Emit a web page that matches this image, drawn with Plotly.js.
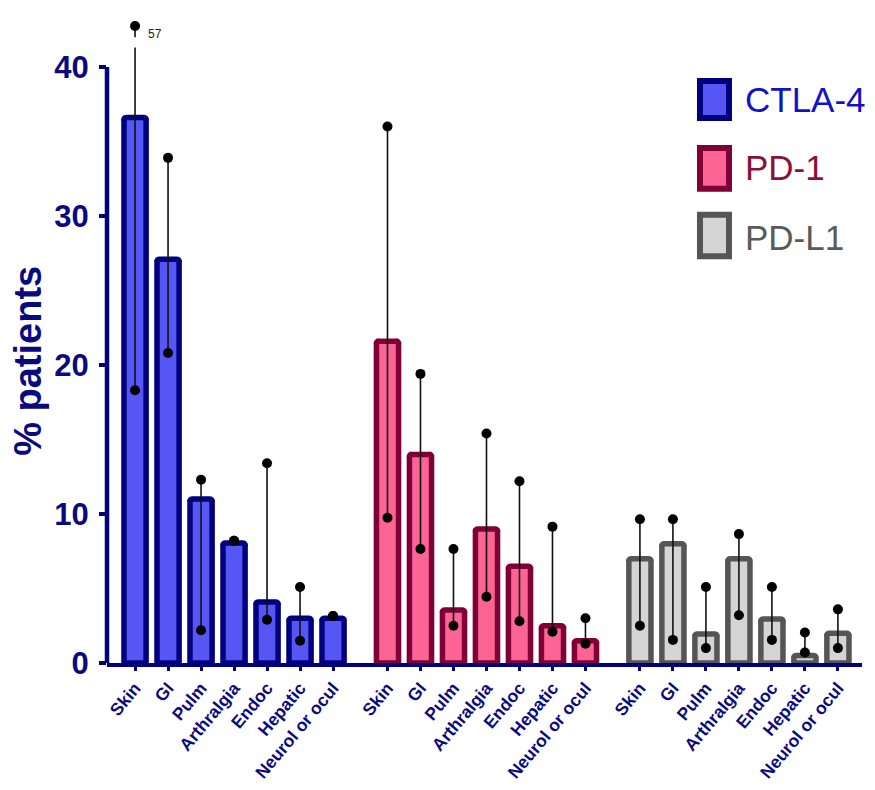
<!DOCTYPE html>
<html>
<head>
<meta charset="utf-8">
<script src="https://cdn.plot.ly/plotly-3.0.1.min.js"></script>
<style>html,body{margin:0;padding:0;background:#fff;}#chart{width:875px;height:790px;}</style>
</head>
<body>
<div id="chart"></div>
<script>
// ---- data ----
const categories = ['Skin', 'GI', 'Pulm', 'Arthralgia', 'Endoc', 'Hepatic', 'Neurol or ocul'];
const groups = ['CTLA-4', 'PD-1', 'PD-L1'];

const ctla4Mean = [36.6, 27.1, 11.0, 8.05, 4.1, 3.0, 3.0];
const ctla4Low  = [18.3, 20.8, 2.2, 8.2, 2.9, 1.5, 3.15];
const ctla4High = [57, 33.9, 12.3, 8.2, 13.4, 5.1, 3.15];

const pd1Mean = [21.6, 14.0, 3.55, 9.0, 6.5, 2.5, 1.5];
const pd1Low  = [9.75, 7.65, 2.5, 4.45, 2.8, 2.1, 1.3];
const pd1High = [36.0, 19.4, 7.65, 15.4, 12.2, 9.15, 3.0];

const pdl1Mean = [7.0, 8.0, 1.95, 7.0, 2.95, 0.5, 2.0];
const pdl1Low  = [2.5, 1.55, 1.0, 3.2, 1.55, 0.7, 1.0];
const pdl1High = [9.65, 9.65, 5.1, 8.65, 5.1, 2.05, 3.6];

const yTickVals = [0, 10, 20, 30, 40];

// ---- styling ----
const fills = ['#5656F4', '#FB6494', '#D4D4D4'];
const edges = ['#00007E', '#7E0036', '#555555'];
const legendText = ['#1212CC', '#8A1238', '#5A5A5A'];
const navy = '#0A0A80';
const groupStride = 7.65;
const axisMax = 40;
const yTop = 43.15;
const capDisplay = 42.75;

const means = [ctla4Mean, pd1Mean, pdl1Mean];
const lows = [ctla4Low, pd1Low, pdl1Low];
const highs = [ctla4High, pd1High, pdl1High];

const traces = [];
const tickvals = [], ticktext = [];
const lx = [], ly = [], mx = [], my = [];
const annotations = [];

groups.forEach((g, gi) => {
  const xs = categories.map((c, i) => gi * groupStride + i);
  xs.forEach((x, i) => { tickvals.push(x); ticktext.push(categories[i]); });
  traces.push({
    type: 'bar', x: xs, y: means[gi], width: 0.67, name: g, showlegend: false,
    marker: { color: fills[gi], line: { color: edges[gi], width: 5.5 }, cornerradius: 3 },
    hoverinfo: 'skip'
  });
  xs.forEach((x, i) => {
    const lo = lows[gi][i], hi = highs[gi][i];
    if (hi > yTop) {
      // broken whisker: value beyond axis drawn at cap with label
      lx.push(x, x, null, x, x, null);
      ly.push(lo, axisMax + 1.3, null, capDisplay - 0.75, capDisplay, null);
      mx.push(x, x); my.push(lo, capDisplay);
      annotations.push({
        x: x + 0.6, y: capDisplay - 0.55, xref: 'x', yref: 'y', text: String(hi),
        showarrow: false, font: { family: 'Liberation Sans, Arial', size: 12, color: '#222' }
      });
    } else {
      lx.push(x, x, null); ly.push(lo, hi, null);
      mx.push(x, x); my.push(lo, hi);
    }
  });
});

traces.push({
  type: 'scatter', mode: 'lines', x: lx, y: ly, connectgaps: false,
  line: { color: '#111', width: 1.6 }, showlegend: false, hoverinfo: 'skip'
});
traces.push({
  type: 'scatter', mode: 'markers', x: mx, y: my,
  marker: { color: '#000', size: 10 }, showlegend: false, hoverinfo: 'skip'
});

// custom legend (large boxes + text)
const shapes = [
  { type: 'line', xref: 'paper', yref: 'y', x0: 0, x1: 0, y0: 0, y1: axisMax,
    line: { color: '#00007E', width: 4.5 } }
];
const legBoxes = [[0.8476, 0.9051], [0.7376, 0.8009], [0.6325, 0.6972]];
const legTextY = [0.877, 0.770, 0.6625];
groups.forEach((g, gi) => {
  shapes.push({
    type: 'rect', xref: 'paper', yref: 'paper', x0: 0.7854, x1: 0.8238,
    y0: legBoxes[gi][0], y1: legBoxes[gi][1],
    fillcolor: fills[gi], line: { color: edges[gi], width: 6 }
  });
  annotations.push({
    xref: 'paper', yref: 'paper', x: 0.843, y: legTextY[gi], xanchor: 'left', yanchor: 'middle',
    text: g, showarrow: false,
    font: { family: 'Liberation Sans, Arial', size: 35, color: legendText[gi] }
  });
});

// y-axis title
annotations.push({
  xref: 'paper', yref: 'paper', x: -0.1046, y: 0.47, xanchor: 'center', yanchor: 'middle',
  text: '% patients', textangle: -90, showarrow: false,
  font: { family: 'Liberation Sans, Arial', size: 38, color: navy, weight: 'bold' }
});

const layout = {
  width: 875, height: 790,
  margin: { l: 107, r: 13, t: 20, b: 127 },
  paper_bgcolor: '#fff', plot_bgcolor: '#fff',
  showlegend: false,
  bargap: 0,
  xaxis: {
    range: [-0.85, 22.03], tickvals: tickvals, ticktext: ticktext, tickangle: -50,
    showgrid: false, zeroline: false, showline: true, linecolor: '#00007E', linewidth: 4,
    ticks: 'outside', ticklen: 4, tickwidth: 3, tickcolor: '#00007E',
    tickfont: { family: 'Liberation Sans, Arial', size: 17.5, color: navy, weight: 'bold' }
  },
  yaxis: {
    range: [0, yTop], tickvals: yTickVals, showgrid: false, zeroline: false, showline: false,
    ticks: 'outside', ticklen: 7, tickwidth: 4.5, tickcolor: '#00007E',
    ticklabelstandoff: 4,
    tickfont: { family: 'Liberation Sans, Arial', size: 31, color: navy, weight: 'bold' }
  },
  shapes: shapes,
  annotations: annotations
};

Plotly.newPlot('chart', traces, layout, { displayModeBar: false, staticPlot: true });
</script>
</body>
</html>
